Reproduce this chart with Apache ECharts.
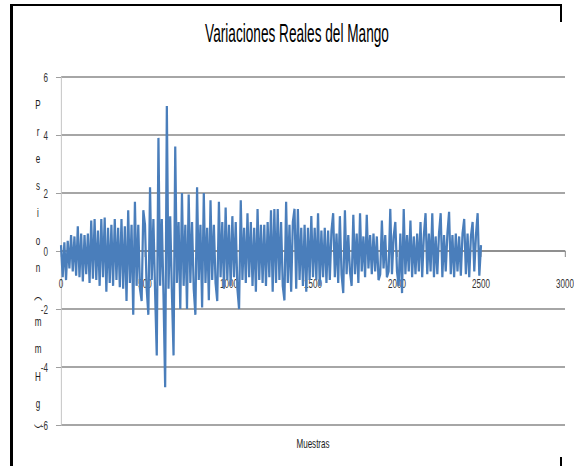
<!DOCTYPE html>
<html>
<head>
<meta charset="utf-8">
<script src="https://cdn.jsdelivr.net/npm/echarts@6/dist/echarts.min.js"></script>
<style>
html,body{margin:0;padding:0;background:#fff;}
#wrap{width:574px;height:466px;overflow:hidden;position:relative;background:#fff;}
#chart{width:926px;height:466px;transform:scaleX(0.61987);transform-origin:0 0;}
.frame{position:absolute;background:#000;z-index:5;}
</style>
</head>
<body>
<div id="wrap">
  <div id="chart"></div>
  <div class="frame" style="left:10px;top:4px;width:2.5px;height:462px;"></div>
  <div class="frame" style="left:10px;top:4px;width:552px;height:2px;"></div>
  <div class="frame" style="left:559.5px;top:4px;width:2px;height:18px;"></div>
  <div class="frame" style="left:560px;top:457px;width:2px;height:9px;"></div>
</div>
<script>
// ---- data ----
const chartTitle = 'Variaciones Reales del Mango';
const xAxisTitle = 'Muestras';
const yAxisTitleChars = ['P','r','e','s','i','o','n','︵','m','m','H','g','︶'];
const xTicks = [0, 500, 1000, 1500, 2000, 2500, 3000];
const yTicks = [-6, -4, -2, 0, 2, 4, 6];
const sampleStep = 10; // one value read every 10 samples
const pressure = [
  0.2, -0.9, 0.3, -1.0, 0.35, -0.6, 0.55, -0.7, 0.5, -0.85,
  0.85, -0.9, 0.6, -1.05, 0.55, -0.8, 0.6, -1.1, 1.05, -0.95,
  1.1, -1.0, 0.7, -1.2, 1.1, -0.9, 1.15, -1.4, 0.8, -1.1,
  0.9, -1.2, 1.1, -1.0, 0.8, -1.25, 1.1, -1.3, 0.85, -1.72,
  1.4, -1.1, 0.9, -2.2, 1.7, -1.2, 0.9, -1.3, -1.72, 1.4,
  0.9, -1.3, -2.2, 2.2, -1.0, 1.1, -1.4, -3.6, 3.9, -1.2,
  1.1, -1.5, -4.7, 5.0, -1.3, 1.2, -1.4, -3.6, 3.6, -1.1,
  1.0, -2.0, 2.0, -1.2, 0.9, -2.0, 1.95, -1.1, 1.0, -1.3,
  -2.2, 2.2, -1.0, 0.9, -1.95, 2.0, -1.1, 0.8, -1.7, 1.75,
  -1.0, 0.9, -1.1, -1.72, 1.7, -0.9, 1.0, -1.3, 1.5, -1.0,
  0.9, -1.2, 1.2, -0.9, 1.0, -1.3, -2.0, 1.75, -1.0, 0.8,
  -1.1, 1.3, -0.9, 1.0, -1.2, 0.8, -1.4, 1.45, -1.0, 0.9,
  -1.1, 0.9, -1.2, 1.0, -0.9, 1.4, -1.4, 1.45, -1.1, 1.45,
  -1.0, 1.0, -1.2, -1.7, 1.7, -1.1, 0.9, -1.4, 1.0, 1.45,
  -1.3, 1.45, -1.0, 0.8, -1.2, 0.9, -1.4, 0.8, -1.0, 1.2,
  -0.9, 0.8, -1.0, 1.3, -1.2, 0.7, -0.9, 0.8, -1.1, 0.7,
  -1.0, 0.7, 1.3, -0.9, 0.6, -1.1, 1.2, -0.8, -1.45, 1.4,
  -0.8, 0.55, -0.7, -1.2, 1.25, -0.8, 0.6, -1.1, 1.3, -0.7,
  0.5, -0.9, 1.25, -0.6, 0.55, -0.8, 0.6, -0.7, 0.5, -1.0,
  -0.8, 1.05, -0.6, 0.55, -0.9, -0.7, 1.45, -0.8, 0.5, 1.0,
  -0.7, -1.2, 0.6, -1.45, 1.45, -0.8, 0.55, -0.7, 1.05, -0.9,
  0.5, -0.8, 0.6, -0.7, 1.0, -0.9, 0.55, 1.3, -0.8, 0.6,
  -0.7, 1.3, -0.9, 0.5, -0.8, 0.6, 1.3, -0.9, 0.55, -0.7,
  0.6, 1.35, -0.8, 0.55, -0.9, 0.6, -0.7, 0.5, -0.85, 0.6,
  1.1, -0.8, 0.6, -0.9, 0.5, 1.0, -0.7, 0.55, 1.3, -0.85,
  0.2
];

// ---- layout (screen px, converted to the pre-squeeze canvas) ----
const SX = 0.61987;
const px = v => v / SX;
const FONT = "'Liberation Sans', Arial, 'Noto Sans CJK SC', sans-serif";
const GRID_TOP = 77, GRID_BOTTOM_Y = 425, ZERO_Y = 251;

const seriesData = pressure.map((v, i) => [i * sampleStep, v]);

const chart = echarts.init(document.getElementById('chart'), null, {renderer: 'svg'});
chart.setOption({
  animation: false,
  backgroundColor: '#ffffff',
  grid: {left: px(61), right: 926 - px(565), top: GRID_TOP, bottom: 466 - GRID_BOTTOM_Y, containLabel: false, outerBoundsMode: 'none'},
  xAxis: {
    type: 'value',
    min: xTicks[0], max: xTicks[xTicks.length - 1], interval: 500,
    offset: -(GRID_BOTTOM_Y - ZERO_Y),
    axisLine: {onZero: false, lineStyle: {color: '#888888', width: 1.6}},
    axisTick: {show: true, length: 6, lineStyle: {color: '#888888', width: px(1)}},
    axisLabel: {margin: 26, fontFamily: FONT, fontSize: 13, color: '#333333', formatter: v => String(v)},
    splitLine: {show: false}
  },
  yAxis: {
    type: 'value',
    min: yTicks[0], max: yTicks[yTicks.length - 1], interval: 2,
    axisLine: {show: true, onZero: false, lineStyle: {color: '#c4c4c4', width: px(1)}},
    axisTick: {show: true, length: px(5), lineStyle: {color: '#888888', width: 1}},
    axisLabel: {margin: px(13), fontFamily: FONT, fontSize: 13, color: '#333333', formatter: v => String(v)},
    splitLine: {show: true, lineStyle: {color: '#888888', width: 1.6}}
  },
  series: [{
    type: 'line',
    data: seriesData,
    showSymbol: false,
    symbol: 'none',
    sampling: null,
    lineStyle: {color: '#4a7ebb', width: 3.6},
    z: 3
  }],
  graphic: [
    {type: 'text', z: 10, x: px(297), y: 33, scaleX: 0.88,
     style: {text: chartTitle, fontFamily: FONT, fontSize: 25, fill: '#000', textAlign: 'center', textVerticalAlign: 'middle'}},
    {type: 'text', z: 10, x: px(313), y: 443,
     style: {text: xAxisTitle, fontFamily: FONT, fontSize: 13, fill: '#1a1a1a', textAlign: 'center', textVerticalAlign: 'middle'}},
    {type: 'text', z: 10, x: px(38), y: 267,
     style: {text: yAxisTitleChars.join('\n'), fontFamily: FONT, fontSize: 13, lineHeight: 27.2, fill: '#1a1a1a', textAlign: 'center', textVerticalAlign: 'middle'}}
  ]
});
</script>
</body>
</html>
